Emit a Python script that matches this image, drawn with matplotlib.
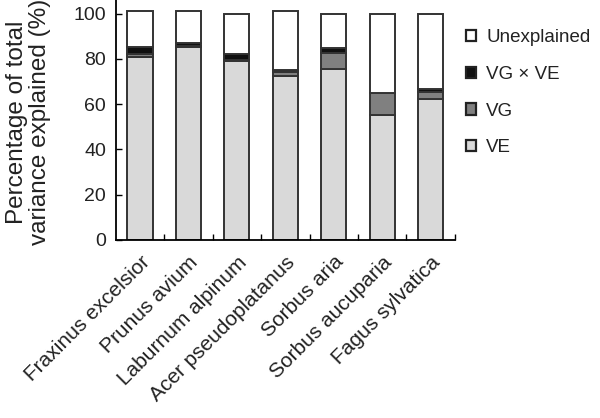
import matplotlib
matplotlib.use("Agg")
import matplotlib.pyplot as plt
from matplotlib.patches import Patch
import numpy as np

plt.rcParams['font.family'] = ['Liberation Sans', 'DejaVu Sans']

# Daten
species = ["Fraxinus excelsior", "Prunus avium", "Laburnum alpinum",
           "Acer pseudoplatanus", "Sorbus aria", "Sorbus aucuparia",
           "Fagus sylvatica"]
ve = [80.6, 85.3, 79.1, 72.3, 75.4, 55.4, 62.2]
vg = [1.4, 0.3, 0.3, 2.0, 7.2, 9.3, 3.2]
vgxve = [3.3, 1.5, 2.6, 0.8, 2.3, 0.4, 1.5]
unexplained = [16.0, 14.2, 17.8, 26.0, 14.9, 34.7, 32.9]

farben = {"VE": "#d9d9d9", "VG": "#808080", "VGxVE": "#111111", "Unexpl": "#ffffff"}
kante = "#333333"

fig = plt.figure(figsize=(6, 4.18), dpi=100)
ax = fig.add_axes([0.193, 0.426, 0.565, 0.574])

x = np.arange(len(species))
breite = 0.52
unten = np.zeros(len(species))
for werte, farbe in [(ve, farben["VE"]), (vg, farben["VG"]),
                     (vgxve, farben["VGxVE"]), (unexplained, farben["Unexpl"])]:
    ax.bar(x, werte, breite, bottom=unten, color=farbe, edgecolor=kante, linewidth=1.4)
    unten = unten + np.array(werte)

ax.set_xlim(-0.5, len(species) - 0.5)
ax.set_ylim(0, 106)
ax.set_yticks([0, 20, 40, 60, 80, 100])
ax.tick_params(axis='y', direction='in', length=4, labelsize=14, width=1, pad=7,
               labelcolor='#222222')
ax.set_xticks(x)
ax.set_xticklabels(species, rotation=45, ha='right', rotation_mode='anchor',
                   fontsize=15, color='#222222')
ax.tick_params(axis='x', length=0, pad=9)
ax.set_xticks(np.arange(len(species)) + 0.5, minor=True)
ax.tick_params(axis='x', which='minor', direction='in', length=4, width=1)

for seite in ['top', 'right']:
    ax.spines[seite].set_visible(False)
ax.spines['left'].set_linewidth(1.3)
ax.spines['bottom'].set_linewidth(1.3)

ax.set_ylabel("Percentage of total\nvariance explained (%)", fontsize=17.5,
              color='#222222', linespacing=1.1)
ax.yaxis.set_label_coords(-0.19, 0.49)

handles = [Patch(facecolor=farben["Unexpl"], edgecolor="#222222", linewidth=1.6),
           Patch(facecolor=farben["VGxVE"], edgecolor="#222222", linewidth=1.6),
           Patch(facecolor=farben["VG"], edgecolor="#222222", linewidth=1.6),
           Patch(facecolor=farben["VE"], edgecolor="#222222", linewidth=1.6)]
labels = ["Unexplained", "VG × VE", "VG", "VE"]
fig.legend(handles, labels, loc='upper left', bbox_to_anchor=(0.776, 0.930),
           frameon=False, fontsize=13.5, handlelength=0.55, handleheight=0.55,
           handletextpad=0.55, labelspacing=1.05, borderaxespad=0, borderpad=0,
           labelcolor='#222222')

fig.savefig("out.png", dpi=100)
